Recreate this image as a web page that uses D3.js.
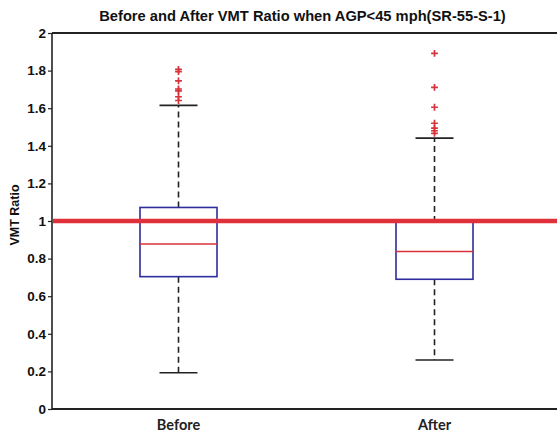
<!DOCTYPE html>
<html>
<head>
<meta charset="utf-8">
<script src="https://cdn.jsdelivr.net/npm/d3@7"></script>
<style>
  html, body { margin: 0; padding: 0; background: #fff; }
  svg { display: block; }
</style>
</head>
<body>
<svg id="chart" width="557" height="435"></svg>
<script>
// Box-plot summaries per period
const categories = ["Before", "After"];
const q1 = [0.704, 0.69];
const medians = [0.878, 0.838];
const q3 = [1.072, 0.995];
const whiskerLow = [0.193, 0.261];
const whiskerHigh = [1.615, 1.441];
const outliers = [
  [1.807, 1.795, 1.745, 1.702, 1.692, 1.661, 1.641],
  [1.892, 1.711, 1.605, 1.52, 1.494, 1.48, 1.466]
];
const referenceValue = 1;
const yTicks = [0, 0.2, 0.4, 0.6, 0.8, 1, 1.2, 1.4, 1.6, 1.8, 2];

const W = 557, H = 435;
const margin = { left: 52, right: -3, top: 33, bottom: 26 };
const svg = d3.select("#chart");

const x = d3.scalePoint()
  .domain(categories)
  .range([178.5, 434.5]);
const y = d3.scaleLinear()
  .domain([0, 2])
  .range([H - margin.bottom, margin.top]);

const xLeft = margin.left, xRight = W - margin.right;
const boxW = 77, capW = 38;

// Title
svg.append("text")
  .attr("x", 302.5).attr("y", 21)
  .attr("text-anchor", "middle")
  .attr("font-family", "Liberation Sans, Arial, sans-serif")
  .attr("font-weight", "bold")
  .attr("font-size", 14.7)
  .attr("fill", "#111")
  .text("Before and After VMT Ratio when AGP<45 mph(SR-55-S-1)");

// Left axis
const yAxis = d3.axisLeft(y).tickValues(yTicks).tickSize(4).tickPadding(2)
  .tickFormat(d => d3.format("~g")(d));
const gy = svg.append("g").attr("transform", `translate(${xLeft},0)`).call(yAxis);
gy.select(".domain").remove();
gy.selectAll(".tick line").attr("stroke", "#222").attr("stroke-width", 1.2);
gy.selectAll(".tick text")
  .attr("font-family", "Liberation Sans, Arial, sans-serif")
  .attr("font-weight", "bold")
  .attr("font-size", 13.5)
  .attr("fill", "#111");

// Right-side tick marks
const yAxisR = d3.axisLeft(y).tickValues(yTicks).tickSize(3).tickFormat("");
const gr = svg.append("g").attr("transform", `translate(${xRight},0)`).call(yAxisR);
gr.select(".domain").remove();
gr.selectAll(".tick line").attr("stroke", "#444").attr("stroke-width", 1.2);

// Frame
svg.append("line").attr("x1", xLeft).attr("x2", xLeft)
  .attr("y1", y(2)).attr("y2", y(0)).attr("stroke", "#222").attr("stroke-width", 1.6);
svg.append("line").attr("x1", xLeft).attr("x2", xRight)
  .attr("y1", y(2)).attr("y2", y(2)).attr("stroke", "#222").attr("stroke-width", 1.8);
svg.append("line").attr("x1", xLeft).attr("x2", xRight)
  .attr("y1", y(0)).attr("y2", y(0)).attr("stroke", "#222").attr("stroke-width", 1.8);

// Y label
svg.append("text")
  .attr("transform", `translate(19,${y(1) - 6}) rotate(-90)`)
  .attr("text-anchor", "middle")
  .attr("font-family", "Liberation Sans, Arial, sans-serif")
  .attr("font-weight", "bold")
  .attr("font-size", 12.5)
  .attr("fill", "#111")
  .text("VMT Ratio");

// X category labels
svg.selectAll(".xlab").data(categories).enter().append("text")
  .attr("class", "xlab")
  .attr("x", d => x(d)).attr("y", 430)
  .attr("text-anchor", "middle")
  .attr("font-family", "Lato, 'Open Sans', sans-serif")
  .attr("font-weight", "bold")
  .attr("font-size", 14.5)
  .attr("fill", "#222")
  .text(d => d);

const idx = categories.map((c, i) => i);
const g = svg.append("g");

// Whiskers (dashed), boxes, medians, outliers
idx.forEach(i => {
  const cx = x(categories[i]);
  g.append("line").attr("x1", cx).attr("x2", cx)
    .attr("y1", y(q3[i])).attr("y2", y(whiskerHigh[i]))
    .attr("stroke", "#222").attr("stroke-width", 1.6).attr("stroke-dasharray", "6,4");
  g.append("line").attr("x1", cx).attr("x2", cx)
    .attr("y1", y(q1[i])).attr("y2", y(whiskerLow[i]))
    .attr("stroke", "#222").attr("stroke-width", 1.6).attr("stroke-dasharray", "6,4");
  [whiskerHigh[i], whiskerLow[i]].forEach(v => {
    g.append("line").attr("x1", cx - capW / 2).attr("x2", cx + capW / 2)
      .attr("y1", y(v)).attr("y2", y(v))
      .attr("stroke", "#222").attr("stroke-width", 1.6);
  });
  g.append("rect")
    .attr("x", cx - boxW / 2).attr("width", boxW)
    .attr("y", y(q3[i])).attr("height", y(q1[i]) - y(q3[i]))
    .attr("fill", "none").attr("stroke", "#2d2d9c").attr("stroke-width", 1.6);
  g.append("line").attr("x1", cx - boxW / 2).attr("x2", cx + boxW / 2)
    .attr("y1", y(medians[i])).attr("y2", y(medians[i]))
    .attr("stroke", "#d8323a").attr("stroke-width", 1.5);
  outliers[i].forEach(v => {
    const py = y(v), s = 3.4;
    g.append("path")
      .attr("d", `M${cx - s},${py}H${cx + s}M${cx},${py - s}V${py + s}`)
      .attr("stroke", "#d8323a").attr("stroke-width", 1.7).attr("fill", "none");
  });
});

// Reference line at ratio = 1
svg.append("line")
  .attr("x1", xLeft + 1).attr("x2", W)
  .attr("y1", y(referenceValue)).attr("y2", y(referenceValue))
  .attr("stroke", "#e0303a").attr("stroke-width", 4.5);
</script>
</body>
</html>
